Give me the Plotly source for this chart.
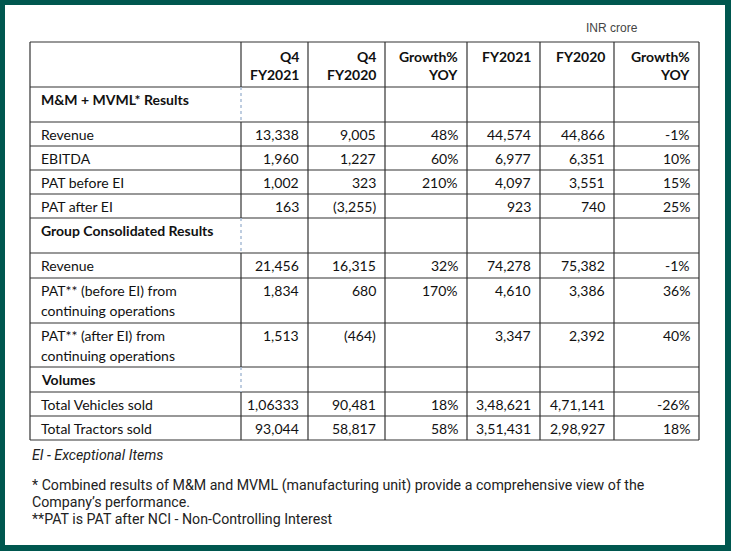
import plotly.graph_objects as go

# ---------------- data ----------------
headers = ["", "Q4<br>FY2021", "Q4<br>FY2020", "Growth%<br>YOY", "FY2021", "FY2020", "Growth%<br>YOY"]
row_labels = [
    "M&M + MVML* Results", "Revenue", "EBITDA", "PAT before EI", "PAT after EI",
    "Group Consolidated Results", "Revenue",
    "PAT** (before EI) from<br>continuing operations",
    "PAT** (after EI) from<br>continuing operations",
    "Volumes", "Total Vehicles sold", "Total Tractors sold",
]
is_section = [True, False, False, False, False, True, False, False, False, True, False, False]
q4_fy2021 = ["", "13,338", "1,960", "1,002", "163", "", "21,456", "1,834", "1,513", "", "1,06333", "93,044"]
q4_fy2020 = ["", "9,005", "1,227", "323", "(3,255)", "", "16,315", "680", "(464)", "", "90,481", "58,817"]
growth_q4 = ["", "48%", "60%", "210%", "", "", "32%", "170%", "", "", "18%", "58%"]
fy2021 = ["", "44,574", "6,977", "4,097", "923", "", "74,278", "4,610", "3,347", "", "3,48,621", "3,51,431"]
fy2020 = ["", "44,866", "6,351", "3,551", "740", "", "75,382", "3,386", "2,392", "", "4,71,141", "2,98,927"]
growth_fy = ["", "-1%", "10%", "15%", "25%", "", "-1%", "36%", "40%", "", "-26%", "18%"]
unit_note = "INR crore"
footnotes = [
    "<i>EI - Exceptional Items</i>",
    "* Combined results of M&M and MVML (manufacturing unit) provide a comprehensive view of the",
    "Company\u2019s performance.",
    "**PAT is PAT after NCI - Non-Controlling Interest",
]

# ---------------- layout constants ----------------
W, H = 731, 551
col_edges = [30, 241, 308, 385, 467, 540, 614, 699]
header_h = 45
row_heights = [35, 24, 24, 24, 24, 35, 25, 45, 44, 25, 24, 24]
table_top = 42
green = "#00574F"
line_col = "#333333"
txt_col = "#111111"
tfont = "Lato, Calibri, Carlito, sans-serif"

fig = go.Figure()
shapes = []
ann = []

# white card
shapes.append(dict(type="rect", xref="x", yref="y", x0=5, x1=725, y0=5, y1=545,
                   fillcolor="white", line=dict(width=0), layer="below"))

# row edges
row_edges = [table_top, table_top + header_h]
for h in row_heights:
    row_edges.append(row_edges[-1] + h)
top, bottom = row_edges[0], row_edges[-1]

# horizontal lines
for y in row_edges:
    shapes.append(dict(type="line", xref="x", yref="y", x0=col_edges[0], x1=col_edges[-1],
                       y0=y, y1=y, line=dict(color=line_col, width=1.2)))
# vertical lines (dotted light blue between label and first value col in section rows)
for i, x in enumerate(col_edges):
    if i == 1:
        segs = []
        y0 = top
        for r, sec in enumerate(is_section):
            ya, yb = row_edges[r + 1], row_edges[r + 2]
            if sec:
                if ya > y0:
                    segs.append((y0, ya, False))
                segs.append((ya, yb, True))
                y0 = yb
        segs.append((y0, bottom, False))
        for a, b, dotted in segs:
            if dotted:
                shapes.append(dict(type="line", xref="x", yref="y", x0=x, x1=x, y0=a, y1=b,
                                   line=dict(color="#a9bdd6", width=1.5, dash="dot")))
            else:
                shapes.append(dict(type="line", xref="x", yref="y", x0=x, x1=x, y0=a, y1=b,
                                   line=dict(color=line_col, width=1.2)))
    else:
        shapes.append(dict(type="line", xref="x", yref="y", x0=x, x1=x, y0=top, y1=bottom,
                           line=dict(color=line_col, width=1.2)))

def add_text(text, x, y, xanchor, size=14, bold=False, color=txt_col, family=tfont):
    ann.append(dict(x=x, y=y, xref="x", yref="y", text=("<b>%s</b>" % text) if bold else text,
                    showarrow=False, xanchor=xanchor, yanchor="middle",
                    font=dict(family=family, size=size, color=color)))

# header
for c, htxt in enumerate(headers):
    if not htxt:
        continue
    for k, line in enumerate(htxt.split("<br>")):
        add_text(line, col_edges[c + 1] - 7, top + 14 + 18 * k, "right", bold=True)

# body
columns = [q4_fy2021, q4_fy2020, growth_q4, fy2021, fy2020, growth_fy]
for r, label in enumerate(row_labels):
    ytop = row_edges[r + 1]
    for k, line in enumerate(label.split("<br>")):
        add_text(line, col_edges[0] + 9, ytop + 12.5 + 20 * k, "left", bold=is_section[r])
    for c, col in enumerate(columns):
        if col[r]:
            add_text(col[r], col_edges[c + 2] - 7, ytop + 12.5, "right")

# unit note
add_text(unit_note, 612, 28, "center", size=12, color="#444444", family="Liberation Sans, Arial, sans-serif")

# footnotes
foot_font = "Roboto, sans-serif"
foot_y = [455, 485, 502, 519]
for t, y in zip(footnotes, foot_y):
    add_text(t, 30, y, "left", size=14.2, color="#222222", family=foot_font)

fig.update_layout(
    width=W, height=H, margin=dict(l=0, r=0, t=0, b=0),
    paper_bgcolor=green, plot_bgcolor=green,
    xaxis=dict(range=[0, W], visible=False, fixedrange=True),
    yaxis=dict(range=[H, 0], visible=False, fixedrange=True),
    shapes=shapes, annotations=ann, showlegend=False,
)
fig.write_html("out.html", post_script="document.body.style.margin='0';document.body.style.overflow='hidden';",
               config={"displayModeBar": False})
